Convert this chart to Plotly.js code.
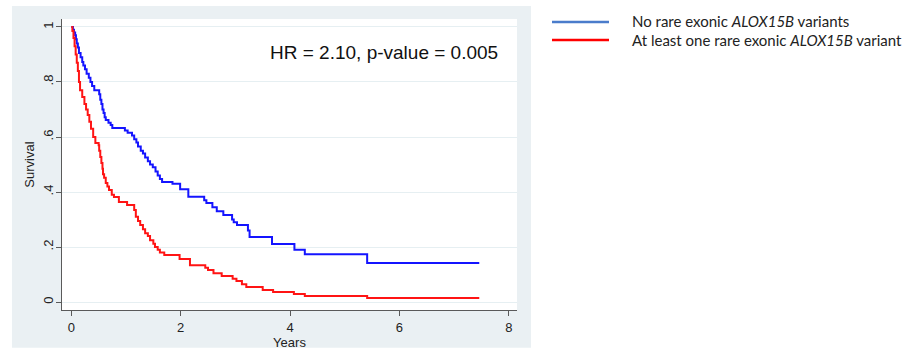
<!DOCTYPE html>
<html>
<head>
<meta charset="utf-8">
<script src="https://cdn.plot.ly/plotly-3.0.1.min.js"></script>
<style>html,body{margin:0;padding:0;background:#fff;}#chart{width:907px;height:352px;}</style>
</head>
<body>
<div id="chart"></div>
<script>
// Kaplan-Meier estimates
const blueYears = [0,0.03,0.05,0.07,0.085,0.1,0.12,0.14,0.17,0.2,0.22,0.25,0.28,0.32,0.35,0.38,0.42,0.51,0.53,0.55,0.57,0.59,0.61,0.63,0.68,0.72,0.75,0.98,1.03,1.11,1.15,1.19,1.22,1.27,1.31,1.35,1.40,1.44,1.49,1.54,1.58,1.62,1.66,1.85,1.99,2.14,2.43,2.47,2.58,2.66,2.78,2.94,2.97,3.03,3.23,3.26,3.67,4.08,4.27,5.41,7.46];
const blueSurv  = [1.0,0.99,0.98,0.97,0.955,0.94,0.925,0.905,0.89,0.873,0.86,0.846,0.83,0.815,0.80,0.785,0.77,0.755,0.735,0.72,0.70,0.687,0.672,0.662,0.652,0.644,0.633,0.624,0.615,0.605,0.592,0.58,0.565,0.55,0.54,0.525,0.512,0.50,0.49,0.475,0.46,0.447,0.436,0.43,0.41,0.383,0.37,0.36,0.345,0.33,0.316,0.30,0.29,0.28,0.26,0.236,0.211,0.19,0.174,0.142,0.142];
const redYears = [0,0.02,0.04,0.06,0.08,0.1,0.12,0.14,0.16,0.2,0.24,0.27,0.3,0.33,0.36,0.4,0.44,0.5,0.51,0.53,0.55,0.57,0.58,0.6,0.63,0.66,0.69,0.74,0.78,0.87,1.02,1.15,1.18,1.22,1.26,1.31,1.35,1.4,1.44,1.5,1.53,1.58,1.62,1.7,1.98,2.17,2.45,2.5,2.6,2.75,2.95,3.02,3.12,3.2,3.5,3.69,4.07,4.27,5.41,7.46];
const redSurv  = [1.0,0.985,0.96,0.93,0.90,0.87,0.84,0.80,0.77,0.745,0.72,0.70,0.68,0.655,0.63,0.60,0.578,0.57,0.55,0.527,0.505,0.485,0.465,0.452,0.433,0.42,0.407,0.39,0.382,0.364,0.353,0.335,0.31,0.295,0.28,0.265,0.25,0.24,0.225,0.212,0.2,0.19,0.18,0.171,0.156,0.134,0.125,0.116,0.105,0.095,0.085,0.076,0.065,0.055,0.044,0.036,0.029,0.022,0.015,0.015];
const xTicks = [0,2,4,6,8];
const yTicks = [0,0.2,0.4,0.6,0.8,1];
const yTickLabels = ["0",".2",".4",".6",".8","1"];
const seriesNames = ["No rare exonic <i>ALOX15B</i> variants","At least one rare exonic <i>ALOX15B</i> variant"];
const statText = "HR = 2.10, p-value = 0.005";

const axisCol = '#5a5a5a';
const traces = [
  {x: blueYears, y: blueSurv, type:'scatter', mode:'lines', line:{shape:'hv', color:'#1414ff', width:2}, showlegend:false, hoverinfo:'skip'},
  {x: redYears, y: redSurv, type:'scatter', mode:'lines', line:{shape:'hv', color:'#ff1414', width:2}, showlegend:false, hoverinfo:'skip'}
];

const layout = {
  width: 907, height: 352,
  margin: {l:62, r:390, t:19, b:42, pad:0},
  paper_bgcolor: '#ffffff',
  plot_bgcolor: '#ffffff',
  font: {family:'Arial, "Liberation Sans", sans-serif', size:13, color:'#222'},
  xaxis: {
    range:[-0.17, 8.15], tickvals:xTicks, ticktext:xTicks.map(String),
    showgrid:false, zeroline:false, showline:true, linecolor:axisCol, linewidth:1,
    ticks:'outside', ticklen:5, tickcolor:axisCol, tickfont:{size:13, color:'#222'},
    title:{text:'Years', font:{size:13, color:'#222'}, standoff:3}
  },
  yaxis: {
    range:[-0.029, 1.029], tickvals:yTicks, ticktext:yTickLabels, tickangle:-90, ticklabelstandoff:-2,
    showgrid:true, gridcolor:'#e6eff2', gridwidth:1, zeroline:false, showline:true, linecolor:axisCol, linewidth:1,
    ticks:'outside', ticklen:5, tickcolor:axisCol, tickfont:{size:13, color:'#222'},
    title:{text:'Survival', font:{size:13, color:'#222'}, standoff:3}
  },
  shapes: [
    {type:'rect', xref:'paper', yref:'paper', x0:-0.11, x1:1.0308, y0:-0.13, y1:1.0447, fillcolor:'#eaf0f3', line:{width:0}, layer:'below'},
    {type:'rect', xref:'paper', yref:'paper', x0:0, x1:1, y0:0, y1:1, fillcolor:'#ffffff', line:{width:0}, layer:'below'},
    {type:'line', xref:'paper', yref:'paper', x0:(552-62)/455, x1:(609-62)/455, y0:(310-22)/291, y1:(310-22)/291, line:{color:'#4a7ccb', width:2.5}},
    {type:'line', xref:'paper', yref:'paper', x0:(552-62)/455, x1:(609-62)/455, y0:(310-40)/291, y1:(310-40)/291, line:{color:'#ff0000', width:2.5}}
  ],
  annotations: [
    {text: statText, x:5.72, y:0.909, xref:'x', yref:'y', showarrow:false, xanchor:'center', yanchor:'middle', font:{size:19, color:'#111', family:'Arial, "Liberation Sans", sans-serif'}},
    {text: seriesNames[0], xref:'paper', yref:'paper', x:(630-62)/455, y:(310-21)/291, xanchor:'left', yanchor:'middle', showarrow:false, font:{family:'Lato, "Open Sans", sans-serif', size:15, color:'#222'}},
    {text: seriesNames[1], xref:'paper', yref:'paper', x:(630-62)/455, y:(310-40)/291, xanchor:'left', yanchor:'middle', showarrow:false, font:{family:'Lato, "Open Sans", sans-serif', size:15, color:'#222'}}
  ],
  showlegend:false
};

Plotly.newPlot('chart', traces, layout, {displayModeBar:false, staticPlot:true});
</script>
</body>
</html>
